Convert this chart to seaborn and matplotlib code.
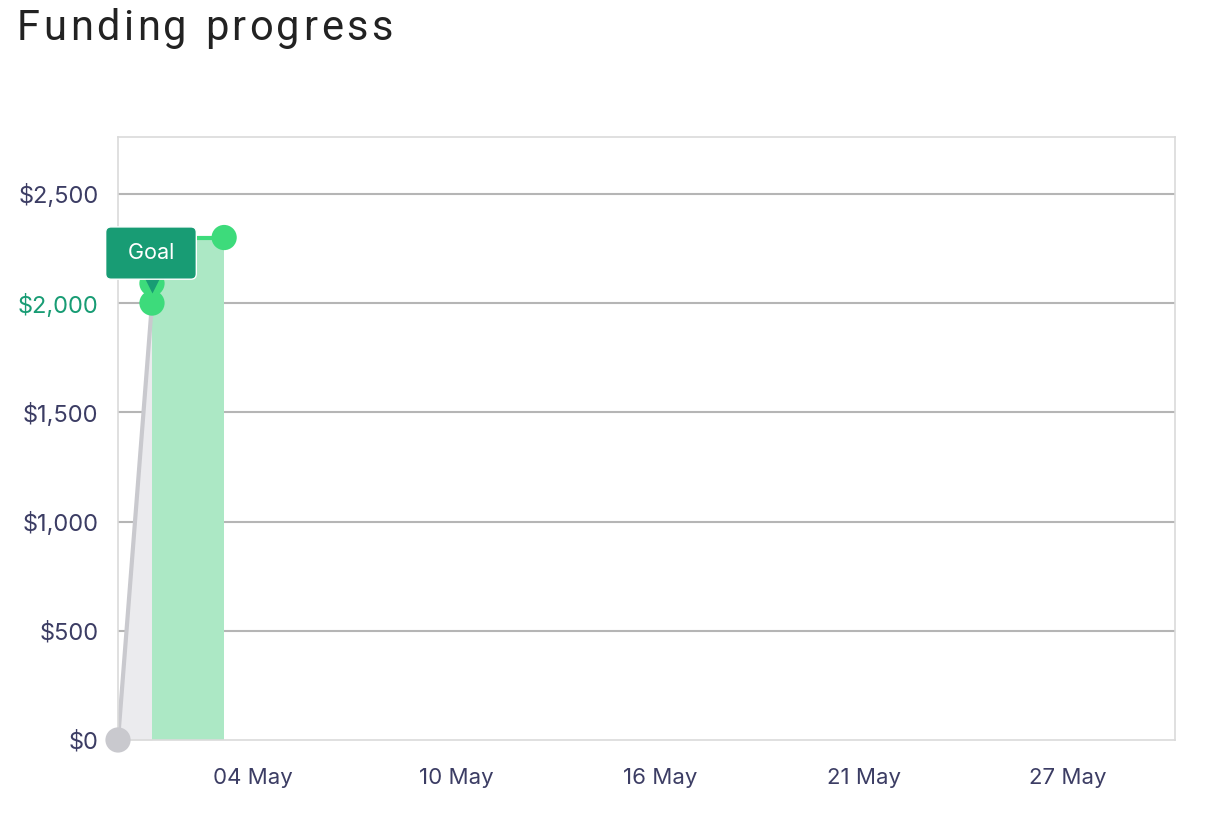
import pandas as pd
import matplotlib.pyplot as plt
import matplotlib.transforms as mtransforms
import seaborn as sns

# Datos de la campaña
start_date = "2024-04-30 01:00"
goal_date = "2024-05-01 01:00"
last_date = "2024-05-03 04:00"
goal_amount = 2000
raised_dates = [goal_date, last_date]
raised_values = [2090, 2300]

y_ticks = [0, 500, 1000, 1500, 2000, 2500]
x_tick_dates = ["2024-05-04", "2024-05-10", "2024-05-16", "2024-05-22", "2024-05-28"]
x_tick_labels = ["04 May", "10 May", "16 May", "21 May", "27 May"]
x_range = ["2024-04-30 01:00", "2024-05-31 04:00"]

gray_df = pd.DataFrame({"fecha": pd.to_datetime([start_date, goal_date]),
                        "monto": [0, goal_amount]})
green_df = pd.DataFrame({"fecha": pd.to_datetime(raised_dates), "monto": raised_values})

GREEN = "#3ddb7b"
GREEN_FILL = "#ace8c5"
DARK_GREEN = "#189c74"
GRAY = "#c9c9ce"
GRAY_FILL = "#ebebee"
NAVY = "#3c3d64"

sns.set_style("white")
plt.rcParams['font.family'] = ['Inter', 'DejaVu Sans']

fig = plt.figure(figsize=(12.08, 8.32), dpi=100)
ax = fig.add_axes([0.0977, 0.1106, 0.875, 0.7247])

# Área gris bajo la línea inicial
ax.fill_between(gray_df["fecha"], 0, gray_df["monto"], color=GRAY_FILL, lw=0, zorder=1)
sns.lineplot(data=gray_df, x="fecha", y="monto", color=GRAY, lw=3, ax=ax, zorder=2)

# Área verde (fondos recaudados)
ax.fill_between(green_df["fecha"], 0, green_df["monto"], step="pre",
                color=GREEN_FILL, lw=0, zorder=1)
ax.plot(green_df["fecha"], green_df["monto"], drawstyle="steps-pre",
        color=GREEN, lw=3, zorder=3)

sns.scatterplot(x=pd.to_datetime([start_date]), y=[0], color=GRAY, s=330,
                edgecolor="none", ax=ax, zorder=5, clip_on=False)
sns.scatterplot(data=green_df, x="fecha", y="monto", color=GREEN, s=330,
                edgecolor="none", ax=ax, zorder=5)
sns.scatterplot(x=pd.to_datetime([goal_date]), y=[goal_amount], color=GREEN, s=330,
                edgecolor="none", ax=ax, zorder=8)

# Etiqueta "Goal"
goal_x = pd.to_datetime(goal_date)
tip = mtransforms.offset_copy(ax.transData, fig=fig, x=0, y=20, units="dots")
ax.plot([goal_x], [goal_amount], marker="v", ms=15, color=DARK_GREEN,
        mec="none", transform=tip, zorder=9)
ax.annotate(" Goal ", xy=(goal_x, goal_amount), xytext=(-1, 50), textcoords="offset pixels",
            ha="center", va="center", color="white", fontsize=15.5, zorder=10,
            bbox=dict(boxstyle="round,pad=0.75,rounding_size=0.25",
                      fc=DARK_GREEN, ec="white", lw=1))

ax.set_xlim(pd.to_datetime(x_range[0]), pd.to_datetime(x_range[1]))
ax.set_ylim(0, 2760)
ax.set_yticks(y_ticks)
ax.set_yticklabels([f"${v:,}" for v in y_ticks])
ax.set_xticks(pd.to_datetime(x_tick_dates))
ax.set_xticklabels(x_tick_labels)
ax.set_xlabel("")
ax.set_ylabel("")

for lbl, v in zip(ax.get_yticklabels(), y_ticks):
    lbl.set_color(DARK_GREEN if v == goal_amount else NAVY)
ax.tick_params(axis="y", length=0, pad=14, labelsize=17)
ax.tick_params(axis="x", length=0, pad=20, labelsize=16, labelcolor=NAVY)

ax.grid(axis="y", color="#b5b5b5", lw=1.5, zorder=0)
ax.yaxis.get_gridlines()[0].set_visible(False)
ax.set_axisbelow(True)
for s in ax.spines.values():
    s.set_color("#dadada")
    s.set_linewidth(1.2)

# Título con espaciado entre letras
title = "Funding progress"
renderer = fig.canvas.get_renderer()
W, H = fig.bbox.width, fig.bbox.height
x_px = 17
track = 3.5
for ch in title:
    t = fig.text(x_px / W, 1 - 40 / H, ch, fontsize=30, color="#222222",
                 family=["Roboto", "DejaVu Sans"], ha="left", va="baseline")
    if ch == " ":
        x_px += 11 + track
    else:
        x_px += t.get_window_extent(renderer).width + track

plt.savefig("out.png", dpi=100)
